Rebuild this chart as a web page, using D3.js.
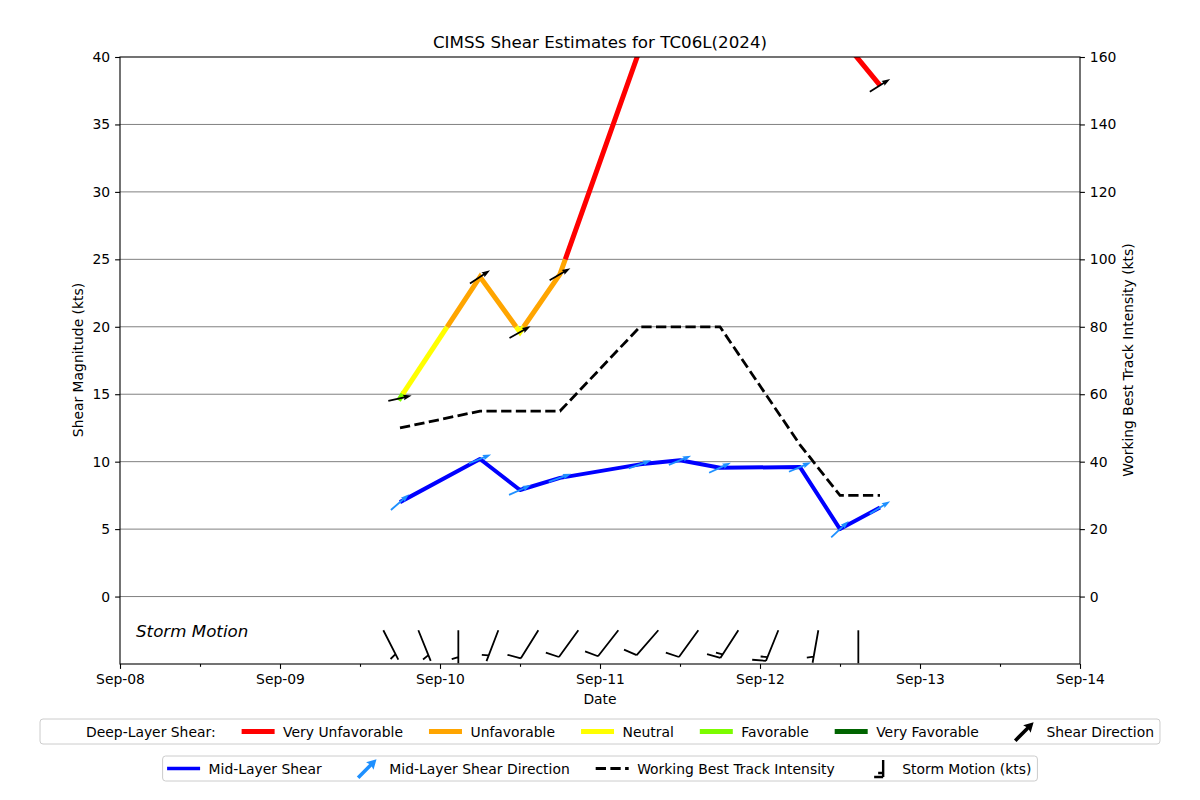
<!DOCTYPE html>
<html><head><meta charset="utf-8">
<script src="https://cdn.jsdelivr.net/npm/d3@7"></script>
<style>
body{margin:0;background:#fff}
svg{display:block}
text{font-family:"DejaVu Sans",sans-serif}
</style>
</head><body>
<svg id="chart" width="1200" height="800"></svg>
<script>
// ---------------- data ----------------
const shearTimes = ["2024-09-09T18:00Z","2024-09-10T06:00Z","2024-09-10T12:00Z","2024-09-10T18:00Z","2024-09-11T06:00Z","2024-09-11T12:00Z","2024-09-11T18:00Z","2024-09-12T06:00Z","2024-09-12T12:00Z","2024-09-12T18:00Z"];
const deepShear = [14.7, 23.7, 19.6, 23.9, 40.6, 44.0, 45.0, 43.0, 41.5, 37.9];
const deepDir   = [77, 57, 61, 60, 60, 60, 60, 60, 60, 58];
const midShear  = [7.0, 10.2, 7.9, 8.8, 9.8, 10.1, 9.55, 9.6, 5.0, 6.6];
const midDir    = [49, 68, 66, 70, 70, 68, 65, 67, 47, 58];
const intensityTimes = ["2024-09-09T18:00Z","2024-09-10T06:00Z","2024-09-10T18:00Z","2024-09-11T06:00Z","2024-09-11T18:00Z","2024-09-12T06:00Z","2024-09-12T12:00Z","2024-09-12T18:00Z"];
const intensity = [50, 55, 55, 80, 80, 45, 30, 30];
const motionTimes = ["2024-09-09T15:30Z","2024-09-09T20:45Z","2024-09-10T02:45Z","2024-09-10T08:45Z","2024-09-10T14:45Z","2024-09-10T20:45Z","2024-09-11T02:45Z","2024-09-11T08:45Z","2024-09-11T14:45Z","2024-09-11T20:45Z","2024-09-12T02:45Z","2024-09-12T08:45Z","2024-09-12T14:45Z"];
const motionHeading = [333, 338, 0, 21, 32, 36, 38, 41, 36, 33, 22, 10, 0];
const motionSpeed   = [5, 5, 5, 5, 10, 10, 10, 10, 10, 15, 15, 5, 0];
const categoryNames  = ["Very Unfavorable","Unfavorable","Neutral","Favorable","Very Favorable"];
const categoryColors = ["#ff0000","#ffa500","#ffff00","#7cfc00","#006400"];
const categoryBreaks = [10, 15, 20, 25];
const leftTicks  = [0, 5, 10, 15, 20, 25, 30, 35, 40];
const rightTicks = [0, 20, 40, 60, 80, 100, 120, 140, 160];
const dayTicks   = ["2024-09-08","2024-09-09","2024-09-10","2024-09-11","2024-09-12","2024-09-13","2024-09-14"];
const halfDayTicks = ["2024-09-08T12:00Z","2024-09-09T12:00Z","2024-09-10T12:00Z","2024-09-11T12:00Z","2024-09-12T12:00Z","2024-09-13T12:00Z"];
const titleText = "CIMSS Shear Estimates for TC06L(2024)";

// ---------------- setup ----------------
const svg = d3.select("#chart");
const PL = 120, PR = 1080, PT = 57, PB = 664;
const FS = 13.9;
const parse = s => new Date(s.length === 10 ? s + "T00:00Z" : s);

const x = d3.scaleUtc().domain([parse("2024-09-08"), parse("2024-09-14")]).range([PL, PR]);
const yL = d3.scaleLinear().domain([-5, 40]).range([PB, PT]);
const yR = d3.scaleLinear().domain([-20, 160]).range([PB, PT]);

svg.append("defs").append("clipPath").attr("id","clip")
  .append("rect").attr("x",PL).attr("y",PT).attr("width",PR-PL).attr("height",PB-PT);

// grid
svg.append("g").selectAll("line").data(leftTicks.filter(d => d < 40)).join("line")
  .attr("x1",PL).attr("x2",PR).attr("y1",d=>yL(d)).attr("y2",d=>yL(d))
  .attr("stroke","#808080").attr("stroke-width",1);

const plot = svg.append("g").attr("clip-path","url(#clip)");

// intensity dashed line
const intPts = intensityTimes.map((t,i)=>[x(parse(t)), yR(intensity[i])]);
plot.append("path").attr("d", d3.line()(intPts)).attr("fill","none")
  .attr("stroke","#000").attr("stroke-width",2.8).attr("stroke-dasharray","10.3,4.4");

// deep-layer coloured line
const catScale = d3.scaleThreshold().domain(categoryBreaks)
  .range([categoryColors[4], categoryColors[3], categoryColors[2], categoryColors[1], categoryColors[0]]);
const deepPts = shearTimes.map((t,i)=>({px:x(parse(t)), v:deepShear[i]}));
const runs = [];
let cur = null;
for (let i = 0; i < deepPts.length - 1; i++){
  const a = deepPts[i], b = deepPts[i+1];
  const ts = [0];
  categoryBreaks.forEach(br => {
    if ((a.v - br) * (b.v - br) < 0) ts.push((br - a.v) / (b.v - a.v));
  });
  ts.push(1); ts.sort((p,q)=>p-q);
  for (let k = 0; k < ts.length - 1; k++){
    const t0 = ts[k], t1 = ts[k+1];
    const vm = a.v + (b.v - a.v) * (t0 + t1) / 2;
    const col = catScale(vm);
    const p0 = [a.px + (b.px-a.px)*t0, a.v + (b.v-a.v)*t0];
    const p1 = [a.px + (b.px-a.px)*t1, a.v + (b.v-a.v)*t1];
    if (!cur || cur.col !== col){
      cur = {col, pts:[[p0[0], yL(p0[1])]]};
      runs.push(cur);
    }
    cur.pts.push([p1[0], yL(p1[1])]);
  }
}
runs.forEach((r, i) => {
  plot.append("path").attr("d", d3.line()(r.pts)).attr("fill","none")
    .attr("stroke", r.col).attr("stroke-width",5).attr("stroke-linejoin","miter")
    .attr("stroke-linecap", i === 0 ? "square" : "butt");
});

// arrow helper (quiver-like, pivot middle)
function arrowPath(cx, cy, dirDeg, len, w, hw, hl, hal){
  const a = dirDeg * Math.PI/180;
  const ux = Math.sin(a), uy = -Math.cos(a);
  const nx = -uy, ny = ux;
  const sx = cx - ux*len/2, sy = cy - uy*len/2;
  const loc = [[0,-w/2],[len-hal,-w/2],[len-hl,-hw/2],[len,0],[len-hl,hw/2],[len-hal,w/2],[0,w/2]];
  return "M" + loc.map(([p,q]) => [sx + ux*p + nx*q, sy + uy*p + ny*q].map(v=>v.toFixed(2)).join(",")).join("L") + "Z";
}

// deep-layer arrows
plot.append("g").selectAll("path").data(shearTimes).join("path")
  .attr("d", (t,i) => arrowPath(x(parse(t)), yL(deepShear[i]), deepDir[i], 24, 1.8, 5.6, 8.5, 7.6))
  .attr("fill","#000");

// mid-layer line
const midPts = shearTimes.map((t,i)=>[x(parse(t)), yL(midShear[i])]);
plot.append("path").attr("d", d3.line()(midPts)).attr("fill","none")
  .attr("stroke","#0000ff").attr("stroke-width",4).attr("stroke-linejoin","round");

// mid-layer arrows
plot.append("g").selectAll("path").data(shearTimes).join("path")
  .attr("d", (t,i) => arrowPath(x(parse(t)), yL(midShear[i]), midDir[i], 24, 1.8, 5.6, 8.5, 7.6))
  .attr("fill","#1e90ff");

// barbs (pivot at tip, staff toward direction the motion comes from)
function barbPath(px, py, heading, speed, L){
  const h = heading * Math.PI/180;
  const sx = -Math.sin(h), sy = Math.cos(h);
  const nx = -sy, ny = sx;
  const sp = 0.125*L, fh = 0.4*L, fw = 0.25*L;
  const P = (t, q) => [px + sx*t + nx*q, py + sy*t + ny*q];
  const seg = (a,b) => "M" + a.map(v=>v.toFixed(2)).join(",") + "L" + b.map(v=>v.toFixed(2)).join(",");
  let d = seg(P(0,0), P(L,0));
  let r = Math.round(speed/5)*5;
  let nFull = Math.floor(r/10), half = (r % 10) === 5;
  let off = L;
  for (let i=0;i<nFull;i++){ d += seg(P(off,0), P(off+fw/2, fh)); off -= sp; }
  if (half){
    if (off === L) off -= 1.5*sp;
    d += seg(P(off,0), P(off+fw/4, fh/2));
  }
  return d;
}
plot.append("g").selectAll("path").data(motionTimes).join("path")
  .attr("d", (t,i) => barbPath(x(parse(t)), yL(-2.5), motionHeading[i], motionSpeed[i], 33))
  .attr("fill","none").attr("stroke","#000").attr("stroke-width",1.8);

// storm motion label
svg.append("text").attr("x",136).attr("y",637).attr("font-size",16.7).attr("font-style","italic")
  .text("Storm Motion");

// frame
svg.append("rect").attr("x",PL).attr("y",PT).attr("width",PR-PL).attr("height",PB-PT)
  .attr("fill","none").attr("stroke","#000").attr("stroke-width",1.1);

// axes
function styleAxis(g){
  g.select(".domain").remove();
  g.selectAll("text").attr("font-size",FS).attr("font-family","DejaVu Sans").attr("fill","#000");
  g.selectAll("line").attr("stroke","#000").attr("stroke-width",1.1);
}
svg.append("g").attr("transform",`translate(0,${PB})`)
  .call(d3.axisBottom(x).tickValues(dayTicks.map(parse)).tickFormat(d3.utcFormat("%b-%d")).tickSize(4.9).tickPadding(4.9))
  .call(styleAxis);
svg.append("g").attr("transform",`translate(0,${PB})`)
  .call(d3.axisBottom(x).tickValues(halfDayTicks.map(parse)).tickFormat("").tickSize(2.8))
  .call(styleAxis);
svg.append("g").attr("transform",`translate(${PL},0)`)
  .call(d3.axisLeft(yL).tickValues(leftTicks).tickFormat(d3.format("d")).tickSize(4.9).tickPadding(4.9))
  .call(styleAxis);
svg.append("g").attr("transform",`translate(${PR},0)`)
  .call(d3.axisRight(yR).tickValues(rightTicks).tickFormat(d3.format("d")).tickSize(4.9).tickPadding(4.9))
  .call(styleAxis);

// labels
svg.append("text").attr("x",600).attr("y",48).attr("text-anchor","middle").attr("font-size",16.7).text(titleText);
svg.append("text").attr("x",600).attr("y",704).attr("text-anchor","middle").attr("font-size",FS).text("Date");
svg.append("text").attr("transform","translate(83,360) rotate(-90)").attr("text-anchor","middle").attr("font-size",FS).text("Shear Magnitude (kts)");
svg.append("text").attr("transform","translate(1133,360) rotate(-90)").attr("text-anchor","middle").attr("font-size",FS).text("Working Best Track Intensity (kts)");

// ---------------- legends ----------------
function makeLegend(items, yTop, h){
  const g = svg.append("g");
  const box = g.append("rect").attr("y",yTop).attr("height",h).attr("rx",3)
    .attr("fill","#fff").attr("fill-opacity",0.8).attr("stroke","#cccccc").attr("stroke-width",1);
  const cy = yTop + h/2;
  let xc = 0;
  const inner = g.append("g");
  items.forEach(it => {
    const hx = xc;
    if (it.draw) it.draw(inner, hx, cy);
    const t = inner.append("text").attr("x", hx + 41.5).attr("y", cy + 5).attr("font-size", FS).text(it.label);
    xc = hx + 41.5 + t.node().getComputedTextLength() + 26;
  });
  const contentW = xc - 26;
  const totalW = contentW + 4.5 + 6;
  const left = 600 - totalW/2;
  box.attr("x", left).attr("width", totalW);
  inner.attr("transform", `translate(${left + 4.5},0)`);
}
const lineHandle = (col, w, dash) => (g, hx, cy) => {
  const l = g.append("line").attr("x1",hx).attr("x2",hx+33).attr("y1",cy).attr("y2",cy)
    .attr("stroke",col).attr("stroke-width",w);
  if (dash) l.attr("stroke-dasharray",dash);
};
const arrowHandle = col => (g, hx, cy) => {
  g.append("path").attr("d", arrowPath(hx+19.5, cy, 45, 26, 3.6, 10.5, 9.5, 8.5)).attr("fill", col);
};
const barbHandle = (g, hx, cy) => {
  const sx = hx + 22.5;
  g.append("path").attr("d",
    `M${sx},${cy-8.5}L${sx},${cy+8.5}M${sx},${cy+8.5}L${sx-9},${cy+8.5}M${sx},${cy+4.5}L${sx-5},${cy+4.5}`)
    .attr("fill","none").attr("stroke","#000").attr("stroke-width",2.4);
};
makeLegend([
  {label:"Deep-Layer Shear:", draw:null},
  ...categoryNames.map((n,i)=>({label:n, draw: lineHandle(categoryColors[i], 5)})),
  {label:"Shear Direction", draw: arrowHandle("#000")}
], 719, 25);
makeLegend([
  {label:"Mid-Layer Shear", draw: lineHandle("#0000ff", 3.5)},
  {label:"Mid-Layer Shear Direction", draw: arrowHandle("#1e90ff")},
  {label:"Working Best Track Intensity", draw: lineHandle("#000", 2.8, "10.3,4.4")},
  {label:"Storm Motion (kts)", draw: barbHandle}
], 756, 25);
</script>
</body></html>
